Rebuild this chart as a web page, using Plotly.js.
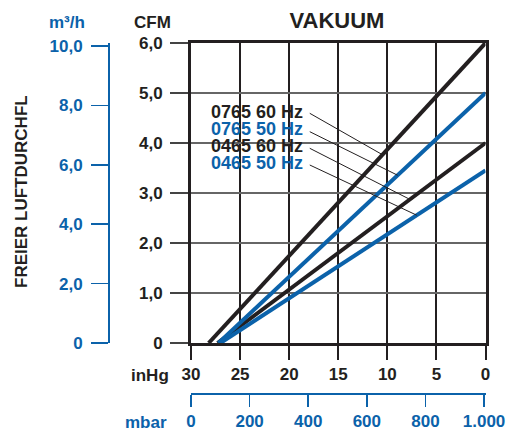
<!DOCTYPE html>
<html>
<head>
<meta charset="utf-8">
<script src="https://cdn.plot.ly/plotly-3.0.1.min.js"></script>
<style>html,body{margin:0;padding:0;background:#fff;}#chart{width:510px;height:434px;}</style>
</head>
<body>
<div id="chart"></div>
<script>
// ---- data ----
var seriesNames = ['0765 60 Hz', '0465 60 Hz', '0765 50 Hz', '0465 50 Hz'];
var inHg_0765_60 = [28.2, 0];
var cfm_0765_60 = [0, 6.0];
var inHg_0465_60 = [27.3, 0];
var cfm_0465_60 = [0, 4.0];
var inHg_0765_50 = [27.2, 0];
var cfm_0765_50 = [0, 5.0];
var inHg_0465_50 = [27.0, 0];
var cfm_0465_50 = [0, 3.45];

var inHgTicks = [30, 25, 20, 15, 10, 5, 0];
var inHgLabels = ['30', '25', '20', '15', '10', '5', '0'];
var cfmTicks = [0, 1, 2, 3, 4, 5, 6];
var cfmLabels = ['0', '1,0', '2,0', '3,0', '4,0', '5,0', '6,0'];
var m3hTicks = [0, 2, 4, 6, 8, 10];
var m3hLabels = ['0', '2,0', '4,0', '6,0', '8,0', '10,0'];
var mbarTicks = [0, 200, 400, 600, 800, 1000];
var mbarLabels = ['0', '200', '400', '600', '800', '1.000'];

// ---- styling ----
var BLACK = '#231f20';
var BLUE = '#0b62aa';
var FONT = 'Liberation Sans, Arial, sans-serif';
var W = 510, H = 434;
var PX_L = 191, PX_R = 485.5, PX_T = 43, PX_B = 343;

function bold(arr) { return arr.map(function (t) { return '<b>' + t + '</b>'; }); }

function interp(xs, ys, x) {
  var x0 = xs[0], x1 = xs[xs.length - 1], y0 = ys[0], y1 = ys[ys.length - 1];
  return y0 + (y1 - y0) * (x - x0) / (x1 - x0);
}

var series = [
  {name: seriesNames[0], x: inHg_0765_60, y: cfm_0765_60, color: BLACK},
  {name: seriesNames[1], x: inHg_0465_60, y: cfm_0465_60, color: BLACK},
  {name: seriesNames[2], x: inHg_0765_50, y: cfm_0765_50, color: BLUE},
  {name: seriesNames[3], x: inHg_0465_50, y: cfm_0465_50, color: BLUE}
];

var traces = series.map(function (s) {
  return {type: 'scatter', mode: 'lines', x: s.x, y: s.y, name: s.name,
          line: {color: s.color, width: 4}, hoverinfo: 'skip', showlegend: false};
});
traces.push({type: 'scatter', mode: 'lines', x: [null], y: [null], xaxis: 'x2', yaxis: 'y2',
             hoverinfo: 'skip', showlegend: false});

// label order from top to bottom
var labelOrder = [
  {s: series[0], ly: 4.626, leadY: 4.594, tip: 10.5},
  {s: series[2], ly: 4.28, leadY: 4.226, tip: 8.95},
  {s: series[1], ly: 3.946, leadY: 3.894, tip: 7.7},
  {s: series[3], ly: 3.60, leadY: 3.56, tip: 7.0}
];

var annotations = [];
var shapes = [];
labelOrder.forEach(function (o) {
  annotations.push({xref: 'x', yref: 'y', x: 28.1, y: o.ly, xanchor: 'left', yanchor: 'middle',
    text: '<b>' + o.s.name + '</b>', showarrow: false, height: 16, borderpad: 0,
    font: {family: FONT, size: 18, color: o.s.color}});
  shapes.push({type: 'line', xref: 'x', yref: 'y', x0: 17.9, y0: o.leadY,
    x1: o.tip, y1: interp(o.s.x, o.s.y, o.tip), line: {color: BLACK, width: 1}});
});

function paperAnn(text, px, py, color, size, angle) {
  return {xref: 'paper', yref: 'paper', x: px / W, y: 1 - py / H, xanchor: 'center', yanchor: 'middle',
    text: '<b>' + text + '</b>', showarrow: false, textangle: angle || 0,
    font: {family: FONT, size: size, color: color}};
}
annotations.push(paperAnn('CFM', 152, 22, BLACK, 17));
annotations.push(paperAnn('m³/h', 67, 22, BLUE, 17));
annotations.push(paperAnn('FREIER LUFTDURCHFL', 21.5, 191.5, BLACK, 17, -90));
annotations.push(paperAnn('inHg', 150, 375, BLACK, 17));
annotations.push(paperAnn('mbar', 146, 422, BLUE, 17));

var tickFont = {family: FONT, size: 17, color: BLACK};
var blueTickFont = {family: FONT, size: 17, color: BLUE};

var layout = {
  width: W, height: H,
  margin: {l: 0, r: 0, t: 0, b: 0},
  paper_bgcolor: '#fff', plot_bgcolor: '#fff',
  showlegend: false,
  title: {text: '<b>VAKUUM</b>', x: 337 / W, xanchor: 'center', y: 1 - 20 / H, yanchor: 'middle',
          font: {family: FONT, size: 22, color: BLACK}},
  xaxis: {
    domain: [PX_L / W, PX_R / W], range: [30, 0], anchor: 'y',
    tickmode: 'array', tickvals: inHgTicks, ticktext: bold(inHgLabels),
    ticks: 'outside', ticklen: 14, tickwidth: 2, tickcolor: BLACK,
    showline: true, linewidth: 3, linecolor: BLACK, mirror: true,
    showgrid: true, gridcolor: BLACK, gridwidth: 2, zeroline: false,
    tickfont: tickFont, fixedrange: true
  },
  yaxis: {
    domain: [(H - PX_B) / H, (H - PX_T) / H], range: [0, 6], anchor: 'x',
    tickmode: 'array', tickvals: cfmTicks, ticktext: bold(cfmLabels),
    ticks: 'outside', ticklen: 18, tickwidth: 2, tickcolor: '#444',
    showline: true, linewidth: 3, linecolor: BLACK, mirror: true,
    showgrid: true, gridcolor: '#666', gridwidth: 2, zeroline: false,
    ticklabelstandoff: 4,
    tickfont: tickFont, fixedrange: true
  },
  yaxis2: {
    overlaying: 'y', anchor: 'free', position: 108 / W, side: 'left',
    range: [0, 10.1],
    tickmode: 'array', tickvals: m3hTicks, ticktext: bold(m3hLabels),
    ticks: 'outside', ticklen: 17, tickwidth: 1.5, tickcolor: BLUE,
    showline: true, linewidth: 1.5, linecolor: BLUE,
    showgrid: false, zeroline: false, ticklabelstandoff: 5,
    tickfont: blueTickFont, fixedrange: true
  },
  xaxis2: {
    overlaying: 'x', anchor: 'free', position: (H - 393) / H, side: 'bottom',
    range: [0, 1005],
    tickmode: 'array', tickvals: mbarTicks, ticktext: bold(mbarLabels),
    ticks: 'outside', ticklen: 12, tickwidth: 1.5, tickcolor: BLUE,
    showline: true, linewidth: 1.5, linecolor: BLUE,
    showgrid: false, zeroline: false, tickfont: blueTickFont, fixedrange: true
  },
  annotations: annotations,
  shapes: shapes
};

Plotly.newPlot('chart', traces, layout, {displayModeBar: false, staticPlot: true});
</script>
</body>
</html>
